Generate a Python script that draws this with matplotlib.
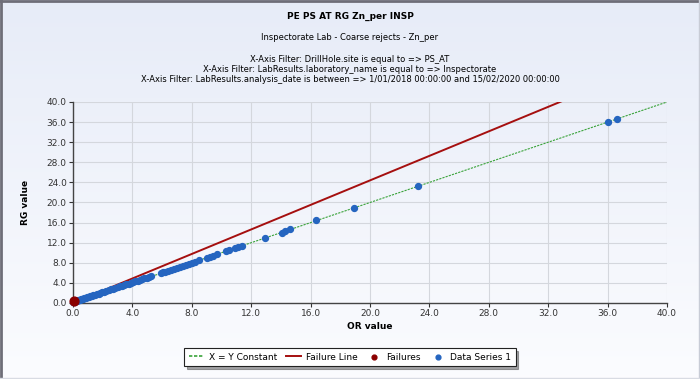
import numpy as np
import matplotlib
matplotlib.use("Agg")
import matplotlib.pyplot as plt
from matplotlib.lines import Line2D

# ---- data ----
title = "PE PS AT RG Zn_per INSP"
subtitle = "Inspectorate Lab - Coarse rejects - Zn_per"
filters = ["X-Axis Filter: DrillHole.site is equal to => PS_AT",
           "X-Axis Filter: LabResults.laboratory_name is equal to => Inspectorate",
           "X-Axis Filter: LabResults.analysis_date is between => 1/01/2018 00:00:00 and 15/02/2020 00:00:00"]

xy_x = [0.0, 40.0]
xy_y = [0.0, 40.0]
fail_line_x = [0.0, 40.0]
fail_line_y = [0.0, 48.8]

failures_x = [0.05]
failures_y = [0.35]

ds_x = [0.02, 0.05, 0.08, 0.10, 0.14, 0.18, 0.22, 0.27, 0.32, 0.38, 0.45, 0.52,
        0.60, 0.68, 0.75, 0.85, 0.95, 1.05, 1.15, 1.25, 1.35, 1.48, 1.60, 1.72,
        1.85, 1.98, 2.10, 2.25, 2.40, 2.55, 2.70, 2.85, 3.00, 3.15, 3.30, 3.45,
        3.60, 3.75, 3.90, 4.05, 4.20, 4.35, 4.50, 4.65, 4.80, 4.95, 5.10, 5.25,
        5.90, 6.05, 6.20, 6.40, 6.60, 6.80, 7.00, 7.20, 7.40, 7.60, 7.80, 8.00,
        8.20, 8.50, 9.00, 9.20, 9.40, 9.70, 10.30, 10.50, 10.90, 11.10, 11.35,
        12.90, 14.05, 14.30, 14.60, 16.35, 18.90, 23.20, 36.05, 36.60]
ds_y = [0.10, 0.20, 0.25, 0.30, 0.32, 0.38, 0.42, 0.45, 0.52, 0.58, 0.62, 0.70,
        0.78, 0.85, 0.92, 1.02, 1.12, 1.22, 1.32, 1.42, 1.52, 1.65, 1.76, 1.88,
        2.00, 2.12, 2.25, 2.40, 2.55, 2.70, 2.85, 3.00, 3.15, 3.30, 3.45, 3.60,
        3.74, 3.88, 4.02, 4.16, 4.30, 4.45, 4.60, 4.75, 4.90, 5.04, 5.18, 5.32,
        5.95, 6.10, 6.25, 6.45, 6.65, 6.85, 7.05, 7.25, 7.45, 7.65, 7.85, 8.05,
        8.25, 8.55, 9.05, 9.25, 9.45, 9.75, 10.35, 10.55, 10.95, 11.15, 11.40,
        12.90, 14.00, 14.40, 14.80, 16.50, 19.00, 23.30, 36.10, 36.60]

x_ticks = np.arange(0, 41, 4)
y_ticks = np.arange(0, 41, 4)

# ---- figure ----
W, H = 700, 379
fig = plt.figure(figsize=(W / 100, H / 100), dpi=100)

# gradient background
bg = fig.add_axes([0, 0, 1, 1], zorder=-10)
grad = np.linspace(0, 1, 256).reshape(-1, 1)
c_top = np.array([0.905, 0.925, 0.972])
c_bot = np.array([0.985, 0.988, 0.998])
img = c_top[None, None, :] * (1 - grad[:, :, None]) + c_bot[None, None, :] * grad[:, :, None]
bg.imshow(img, aspect="auto", extent=[0, 1, 0, 1])
bg.set_axis_off()
# border: dark left/top, light right/bottom
fig.add_artist(Line2D([0.002, 0.002], [0, 1], transform=fig.transFigure,
                      color="#6e6e78", linewidth=2.0))
fig.add_artist(Line2D([0, 1], [0.997, 0.997], transform=fig.transFigure,
                      color="#6e6e78", linewidth=2.0))
fig.add_artist(Line2D([0.998, 0.998], [0, 1], transform=fig.transFigure,
                      color="#c8ccd6", linewidth=1.0))
fig.add_artist(Line2D([0, 1], [0.003, 0.003], transform=fig.transFigure,
                      color="#d8dbe3", linewidth=1.0))

ax = fig.add_axes([73 / W, 1 - 303 / H, (667 - 73) / W, (303 - 102) / H])
ax.set_facecolor("none")

ax.plot(xy_x, xy_y, linestyle=(0, (2, 1)), color="#3aa33a", linewidth=0.8,
        label="X = Y Constant", zorder=3)
ax.plot(fail_line_x, fail_line_y, color="#a50f0f", linewidth=1.4,
        label="Failure Line", zorder=2)
ax.scatter(failures_x, failures_y, s=40, color="#8b0000", label="Failures",
           zorder=5, clip_on=False)
ax.scatter(ds_x, ds_y, s=18, color="#2565c0", label="Data Series 1", zorder=4,
           clip_on=False)

ax.set_xlim(0, 40)
ax.set_ylim(0, 40)
ax.set_xticks(x_ticks)
ax.set_yticks(y_ticks)
ax.set_xticklabels([f"{v:.1f}" for v in x_ticks])
ax.set_yticklabels([f"{v:.1f}" for v in y_ticks])
ax.tick_params(labelsize=6.5, colors="#333333", length=3, width=0.8, pad=1.5)
ax.grid(True, color="#d4d7dd", linewidth=0.8)
ax.set_axisbelow(True)
for s in ["top", "right"]:
    ax.spines[s].set_visible(False)
for s in ["left", "bottom"]:
    ax.spines[s].set_color("#444444")
    ax.spines[s].set_linewidth(1.0)

ax.set_xlabel("OR value", fontsize=6.5, fontweight="bold", labelpad=3)
ax.set_ylabel("RG value", fontsize=6.5, fontweight="bold", labelpad=12)

fig.text(0.5, 1 - 16 / H, title, ha="center", va="center", fontsize=6.5, fontweight="bold")
fig.text(0.5, 1 - 37 / H, subtitle, ha="center", va="center", fontsize=6)
for i, t in enumerate(filters):
    fig.text(0.5, 1 - (59 + 10 * i) / H, t, ha="center", va="center", fontsize=6)

handles, labels = ax.get_legend_handles_labels()
leg = fig.legend(handles, labels, loc="center", bbox_to_anchor=(350 / W, 1 - 357 / H), ncol=4,
                 fontsize=6.5, frameon=True, fancybox=False, shadow=True,
                 edgecolor="#222222", handlelength=1.7, columnspacing=1.0,
                 borderpad=0.5, handletextpad=0.5)
leg.get_frame().set_linewidth(0.8)
leg.get_frame().set_facecolor("white")
lh = leg.legend_handles
lh[0].set_linewidth(1.2)
lh[2].set_sizes([12])
lh[3].set_sizes([12])

fig.savefig("out.png", dpi=100)
